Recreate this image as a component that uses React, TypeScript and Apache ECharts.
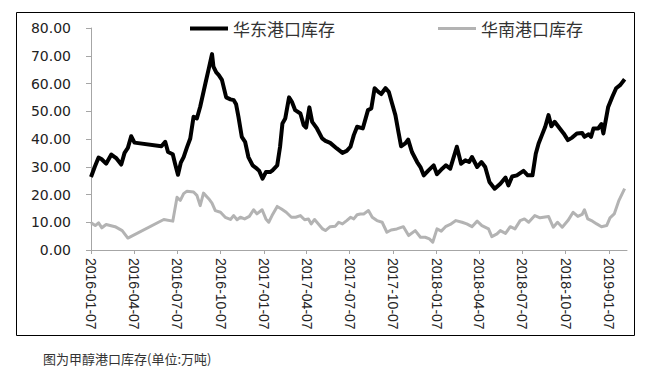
import React, { useEffect, useRef } from "react";
import * as echarts from "echarts";

const eastName = "华东港口库存";
const southName = "华南港口库存";

const tickLabels = [
  "2016-01-07", "2016-04-07", "2016-07-07", "2016-10-07",
  "2017-01-07", "2017-04-07", "2017-07-07", "2017-10-07",
  "2018-01-07", "2018-04-07", "2018-07-07", "2018-10-07",
  "2019-01-07",
];

const yTicks = [0, 10, 20, 30, 40, 50, 60, 70, 80];

const eastDates = [
  "2016-01-07","2016-01-15","2016-01-23","2016-01-29","2016-02-08","2016-02-19","2016-03-01","2016-03-11","2016-03-18","2016-03-25",
  "2016-04-01","2016-04-08","2016-06-04","2016-06-12","2016-06-18","2016-06-28","2016-07-03","2016-07-09","2016-07-15","2016-07-21",
  "2016-07-28","2016-08-04","2016-08-11","2016-08-18","2016-08-25","2016-09-05","2016-09-13","2016-09-19","2016-09-22","2016-09-28",
  "2016-10-03","2016-10-10","2016-10-19","2016-10-28","2016-11-04","2016-11-09","2016-11-14","2016-11-21","2016-11-28","2016-12-05",
  "2016-12-14","2016-12-23","2016-12-28","2017-01-04","2017-01-11","2017-01-20","2017-01-25","2017-02-04","2017-02-10","2017-02-15",
  "2017-02-21","2017-03-01","2017-03-07","2017-03-14","2017-03-25","2017-04-01","2017-04-06","2017-04-13","2017-04-19","2017-04-29",
  "2017-05-10","2017-05-17","2017-05-27","2017-06-10","2017-06-22","2017-07-01","2017-07-09","2017-07-16","2017-07-23","2017-08-04",
  "2017-08-15","2017-08-22","2017-08-29","2017-09-06","2017-09-12","2017-09-21","2017-09-28","2017-10-05","2017-10-12","2017-10-19",
  "2017-10-24","2017-11-02","2017-11-08","2017-11-16","2017-11-27","2017-12-04","2017-12-11","2017-12-21","2018-01-01","2018-01-08",
  "2018-01-19","2018-01-27","2018-02-05","2018-02-19","2018-02-28","2018-03-09","2018-03-17","2018-03-23","2018-04-03","2018-04-12",
  "2018-04-20","2018-04-29","2018-05-10","2018-05-22","2018-06-02","2018-06-08","2018-06-16","2018-06-26","2018-07-10","2018-07-19",
  "2018-07-29","2018-08-05","2018-08-11","2018-08-18","2018-08-25","2018-09-01","2018-09-07","2018-09-14","2018-09-22","2018-10-03",
  "2018-10-12","2018-10-21","2018-10-31","2018-11-11","2018-11-16","2018-11-25","2018-11-30","2018-12-05","2018-12-15","2018-12-22",
  "2018-12-26","2019-01-05","2019-01-14","2019-01-22","2019-01-31","2019-02-09",
];

const eastValues = [
  26.3, 30, 33.3, 32.8, 31.1, 34.4, 33, 30.8, 35, 36.8,
  41, 38.7, 37.4, 39, 35.3, 34.5, 31, 27.1, 31.5, 33.5,
  37, 40.2, 48, 47.4, 51.6, 60, 66, 70.6, 66.1, 64,
  63.1, 61.3, 55, 54.3, 54, 52.5, 48, 40.8, 39, 33.5,
  30.5, 29.3, 28.5, 25.7, 28.1, 28.1, 28.7, 30.5, 37.2, 45.6,
  47.4, 55, 53.4, 50.4, 49.2, 45, 44.1, 51.4, 46.2, 43.8,
  40.2, 39.3, 38.6, 36.6, 35, 35.7, 37.2, 41.4, 44.4, 43.8,
  50.4, 51, 58.3, 57, 56.2, 58.3, 57, 52.8, 48.6, 42,
  37.4, 38.4, 39.8, 35.3, 31.7, 29.9, 26.9, 28.7, 30.5, 27.3,
  29.3, 30.5, 29.3, 37.2, 31.1, 32.3, 31.7, 33.5, 29.9, 31.7,
  29.9, 24.5, 22.1, 23.9, 26.1, 23.3, 26.5, 26.9, 28.5, 26.9,
  26.9, 34.7, 38.4, 41.4, 44.4, 48.6, 44.6, 46.2, 44.4, 42,
  39.6, 40.5, 42, 42.2, 40.8, 41.7, 40.8, 43.8, 43.8, 45.4,
  42, 51.4, 55.2, 58.3, 59.5, 61.5,
];

const southDates = [
  "2016-01-07","2016-01-16","2016-01-23","2016-01-30","2016-02-08","2016-02-27","2016-03-13","2016-03-25","2016-06-09","2016-06-28",
  "2016-07-07","2016-07-14","2016-07-21","2016-07-28","2016-08-11","2016-08-18","2016-08-25","2016-09-01","2016-09-12","2016-09-19",
  "2016-09-26","2016-10-07","2016-10-17","2016-10-28","2016-11-04","2016-11-11","2016-11-18","2016-11-27","2016-12-07","2016-12-16",
  "2016-12-23","2017-01-03","2017-01-11","2017-01-17","2017-01-24","2017-02-04","2017-02-13","2017-02-23","2017-03-06","2017-03-15",
  "2017-03-25","2017-04-03","2017-04-11","2017-04-17","2017-04-24","2017-05-03","2017-05-11","2017-05-17","2017-05-27","2017-06-07",
  "2017-06-14","2017-06-22","2017-07-01","2017-07-09","2017-07-16","2017-07-23","2017-07-30","2017-08-06","2017-08-16","2017-08-24",
  "2017-09-03","2017-09-14","2017-09-24","2017-10-03","2017-10-15","2017-10-29","2017-11-09","2017-11-23","2017-12-04","2017-12-14",
  "2017-12-23","2017-12-30","2018-01-08","2018-01-17","2018-01-26","2018-02-05","2018-02-17","2018-03-02","2018-03-12","2018-03-23",
  "2018-04-03","2018-04-13","2018-04-27","2018-05-04","2018-05-15","2018-05-22","2018-06-02","2018-06-12","2018-06-22","2018-07-03",
  "2018-07-12","2018-07-21","2018-08-03","2018-08-14","2018-09-01","2018-09-11","2018-09-20","2018-09-30","2018-10-12","2018-10-23",
  "2018-11-02","2018-11-11","2018-11-16","2018-11-23","2018-12-03","2018-12-12","2018-12-22","2019-01-02","2019-01-09","2019-01-18",
  "2019-01-28","2019-02-09",
];

const southValues = [
  9.8, 8.8, 9.8, 8, 9.2, 8.4, 7, 4.3, 11, 10.4,
  19, 17.9, 20.3, 21.2, 20.9, 19.7, 16, 20.5, 18.5, 16.9,
  14.2, 13.6, 11.8, 11, 12.4, 10.9, 11.8, 11.2, 12.1, 14.5,
  13, 14.5, 11.2, 10, 12.4, 15.7, 14.8, 13.6, 11.8, 11.8,
  12.4, 10.9, 11.2, 9.4, 11, 9.2, 7.6, 7, 8.4, 8.6,
  10, 9.4, 10.6, 11.8, 11.2, 12.7, 13, 13, 14.2, 11.8,
  10.6, 10, 6.4, 7.2, 7.6, 8.4, 5.2, 7, 4.6, 4.6,
  4, 2.8, 7.6, 6.8, 8.4, 9.2, 10.6, 10, 9.4, 8.4,
  10.4, 8.8, 7.6, 4.8, 5.8, 7, 6, 8.4, 7.6, 10.6,
  11.2, 10, 12.4, 11.6, 12.1, 8.2, 10, 8.2, 10.6, 13.6,
  12.1, 12.8, 14.5, 11.2, 10.4, 9.4, 8.4, 8.8, 11.6, 13,
  17.9, 22.1,
];

const caption = "图为甲醇港口库存(单位:万吨)";

const START = "2016-01-07";
const AXIS_END = "2019-02-14";

function toDay(s: string): number {
  const [y, m, d] = s.split("-").map(Number);
  const [y0, m0, d0] = START.split("-").map(Number);
  return Math.round((Date.UTC(y, m - 1, d) - Date.UTC(y0, m0 - 1, d0)) / 86400000);
}

export default function App() {
  const ref = useRef<HTMLDivElement>(null);
  useEffect(() => {
    if (!ref.current) return;
    const chart = echarts.init(ref.current, undefined, { renderer: "svg" });
    const tickDays = tickLabels.map(toDay);
    const labelByDay: Record<number, string> = {};
    tickLabels.forEach((t, i) => (labelByDay[tickDays[i]] = t));
    const legendText = { fontSize: 17, color: "#333", fontFamily: "'Noto Sans CJK SC', sans-serif" };
    chart.setOption({
      animation: false,
      backgroundColor: "#fff",
      grid: { left: 91, right: 25, top: 28, bottom: 126, containLabel: false },
      legend: [
        {
          left: 190, top: 20, data: [eastName], icon: "rect", itemWidth: 38, itemHeight: 4,
          textStyle: legendText, padding: 0,
        },
        {
          left: 438, top: 20, data: [southName], icon: "rect", itemWidth: 38, itemHeight: 3,
          textStyle: legendText, padding: 0,
        },
      ],
      xAxis: {
        type: "value",
        min: 0,
        max: toDay(AXIS_END),
        splitLine: { show: false },
        axisLine: { show: true, onZero: false, lineStyle: { color: "#a6a6a6", width: 1 } },
        axisTick: { show: true, length: 4, customValues: tickDays, lineStyle: { color: "#a6a6a6" } },
        axisLabel: {
          customValues: tickDays,
          rotate: -90,
          margin: 8,
          fontSize: 14,
          color: "#222",
          fontFamily: "'Liberation Sans', Arial, sans-serif",
          formatter: (v: number) => labelByDay[Math.round(v)] ?? "",
        },
      },
      yAxis: {
        type: "value",
        min: 0,
        max: 80,
        interval: 10,
        splitLine: { show: false },
        axisLine: { show: true, lineStyle: { color: "#a6a6a6", width: 1 } },
        axisTick: { show: true, length: 5, lineStyle: { color: "#a6a6a6" } },
        axisLabel: {
          margin: 20,
          fontSize: 14,
          color: "#222",
          fontFamily: "'DejaVu Sans', sans-serif",
          formatter: (v: number) => (yTicks.includes(v) ? v.toFixed(2) : ""),
        },
      },
      series: [
        {
          name: eastName,
          type: "line",
          showSymbol: false,
          symbol: "none",
          z: 3,
          color: "#000",
          lineStyle: { color: "#000", width: 4, join: "round" },
          data: eastDates.map((d, i) => [toDay(d), eastValues[i]]),
        },
        {
          name: southName,
          type: "line",
          showSymbol: false,
          symbol: "none",
          z: 2,
          color: "#b3b3b3",
          lineStyle: { color: "#b3b3b3", width: 3, join: "round" },
          data: southDates.map((d, i) => [toDay(d), southValues[i]]),
        },
      ],
      graphic: [
        {
          type: "rect",
          shape: { x: 16.5, y: 12.5, width: 618, height: 323 },
          style: { fill: "none", stroke: "#000", lineWidth: 1 },
          silent: true,
        },
        {
          type: "text",
          x: 43,
          y: 358,
          style: {
            text: caption,
            fontSize: 13,
            fill: "#333",
            fontFamily: "'Noto Sans CJK SC', serif",
            verticalAlign: "middle",
          },
          silent: true,
        },
      ],
    });
    return () => chart.dispose();
  }, []);
  return (
    <div
      ref={ref}
      style={{ position: "fixed", left: 0, top: 0, width: 652, height: 376, background: "#fff" }}
    />
  );
}
